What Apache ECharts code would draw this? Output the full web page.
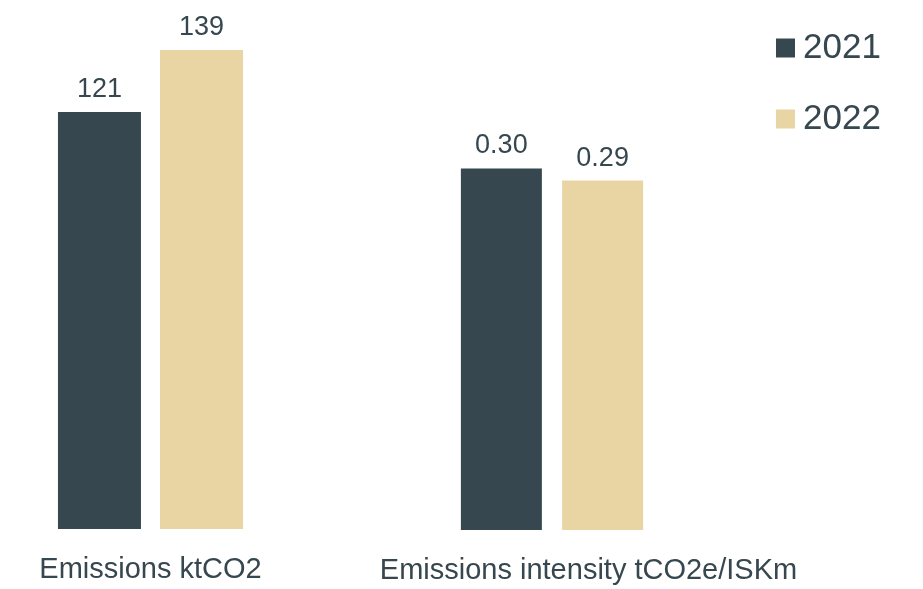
<!DOCTYPE html>
<html>
<head>
<meta charset="utf-8">
<script src="https://cdn.jsdelivr.net/npm/echarts@6/dist/echarts.min.js"></script>
<style>
  html, body { margin: 0; padding: 0; background: #ffffff; }
  #chart { width: 923px; height: 589px; }
</style>
</head>
<body>
<div id="chart"></div>
<script>
// Emissions by year: absolute and intensity, each on its own scale
const years = ['2021', '2022'];
const absCategory = ['Emissions ktCO2'];
const intCategory = ['Emissions intensity tCO2e/ISKm'];
const absValues = [121, 139];          // ktCO2
const intValues = [0.30, 0.29];        // tCO2e/ISKm
const intLabels = ['0.30', '0.29'];

const colors = ['#37474F', '#E9D4A3'];
const textColor = '#37474F';
const font = 'Liberation Sans, Arial, sans-serif';

const chart = echarts.init(document.getElementById('chart'), null, { renderer: 'canvas' });

function barSeries(i, gridIdx, value, labelText, width, gap) {
  return {
    name: years[i],
    type: 'bar',
    xAxisIndex: gridIdx,
    yAxisIndex: gridIdx,
    barWidth: width,
    barGap: gap,
    itemStyle: { color: colors[i] },
    label: {
      show: true,
      position: 'top',
      distance: 9,
      color: textColor,
      fontFamily: font,
      fontSize: 27,
      formatter: () => labelText
    },
    emphasis: { disabled: true },
    data: [value]
  };
}

const series = [];
years.forEach((y, i) => series.push(barSeries(i, 0, absValues[i], String(absValues[i]), 83, '23%')));
years.forEach((y, i) => series.push(barSeries(i, 1, intValues[i], intLabels[i], 81, '25%')));

const catAxis = (data, pad) => ({
  type: 'category',
  data: data,
  axisLine: { show: false },
  axisTick: { show: false },
  axisLabel: {
    color: textColor,
    fontFamily: font,
    fontSize: 29,
    margin: 26,
    padding: pad,
    interval: 0
  }
});

const valAxis = (max) => ({
  type: 'value',
  min: 0,
  max: max,
  show: false,
  splitLine: { show: false }
});

chart.setOption({
  animation: false,
  backgroundColor: '#ffffff',
  legend: {
    orient: 'vertical',
    left: 771,
    top: 23,
    itemWidth: 19,
    itemHeight: 19,
    itemGap: 31,
    icon: 'rect',
    data: years,
    textStyle: {
      color: textColor,
      fontFamily: font,
      fontSize: 35,
      lineHeight: 40,
      padding: [0, 0, 0, 3]
    }
  },
  grid: [
    { left: 40, width: 221, top: 12, bottom: 60 },
    { left: 452, width: 200, top: 48, bottom: 59 }
  ],
  xAxis: [
    Object.assign(catAxis(absCategory, [0, 0, 0, 0]), { gridIndex: 0 }),
    Object.assign(catAxis(intCategory, [0, 0, 0, 73]), { gridIndex: 1 })
  ],
  yAxis: [
    Object.assign(valAxis(150), { gridIndex: 0 }),
    Object.assign(valAxis(0.4), { gridIndex: 1 })
  ],
  series: series
});
</script>
</body>
</html>
